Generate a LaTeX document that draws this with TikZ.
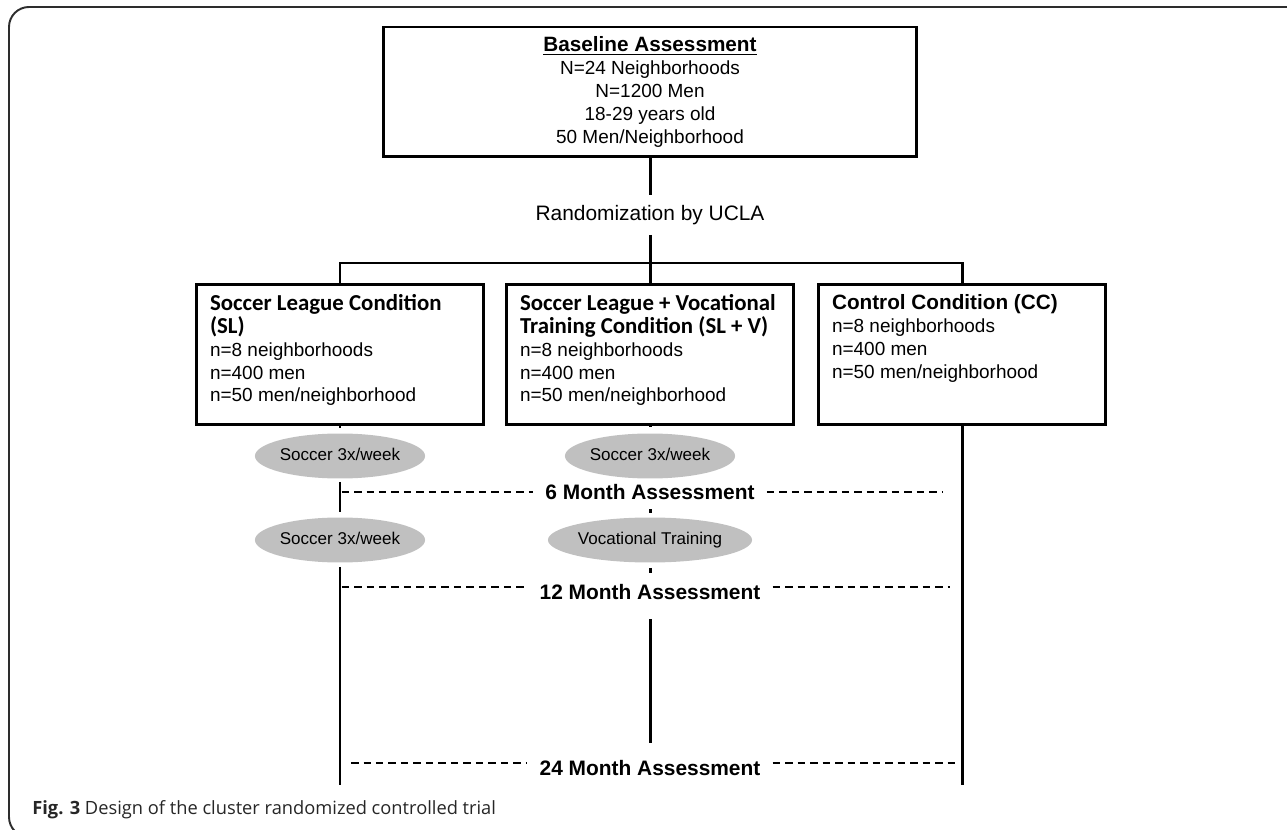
\documentclass[tikz,border=0pt]{standalone}
\usepackage{fontspec}
\setmainfont{Liberation Sans}
\newfontfamily\calfont{Carlito}
\newfontfamily\capfont{Open Sans}
\usepackage{tikz}
\usetikzlibrary{shapes.geometric,positioning}
\definecolor{ovalgray}{RGB}{192,192,192}
\definecolor{framegray}{RGB}{45,45,45}
\newcommand{\condtext}[2]{\parbox[t][2.4cm][t]{5.2cm}{\raggedright #1\fontsize{10.8}{13}\selectfont #2}}
\newcommand{\sltitle}[2]{{\calfont\bfseries\fontsize{#1}{#1}\selectfont #2\par}}

\begin{document}
\begin{tikzpicture}[x=0.02cm, y=-0.02cm,
  trunk/.style={line width=1.7pt},
  condbox/.style={draw, line width=1.7pt, inner xsep=0.28cm, inner ysep=0.2cm, anchor=north},
  oval/.style={ellipse, fill=ovalgray, minimum width=3.24cm, minimum height=0.9cm, inner sep=0pt, text height=0.72em, text depth=0.2em, font=\fontsize{9.7}{11}\selectfont},
  assess/.style={inner xsep=0.24cm, inner ysep=0pt, font=\bfseries\fontsize{11.9}{13}\selectfont},
  dashpat/.style={line width=0.7pt, dash pattern=on 0.15cm off 0.1cm}]
\clip (0,0) rectangle (1287,830);
\draw[framegray, line width=1.1pt, rounded corners=0.4cm] (1300,7) -- (9,7) -- (9,837) -- (1300,837);
\node[draw, line width=1.7pt, minimum width=10.66cm, minimum height=2.6cm, align=center, font=\fontsize{10.8}{13}\selectfont] (base) at (650,92)
  {{\bfseries\fontsize{11.8}{13}\selectfont\underline{Baseline Assessment}}\\N=24 Neighborhoods\\N=1200 Men\\18-29 years old\\50 Men/Neighborhood};
\node[font=\fontsize{11.9}{13}\selectfont, minimum height=0.78cm] (rand) at (650,215) {Randomization by UCLA};
\node[condbox] (sl) at (340,283) {\condtext{\sltitle{13}{Soccer League Condition\\(SL)}}{n=8 neighborhoods\\n=400 men\\n=50 men/neighborhood}};
\node[condbox] (sv) at (650,283) {\condtext{\sltitle{13}{Soccer League + Vocational\\Training Condition (SL + V)}}{n=8 neighborhoods\\n=400 men\\n=50 men/neighborhood}};
\node[condbox] (cc) at (962,283) {\condtext{{\bfseries\fontsize{11.8}{13}\selectfont Control Condition (CC)\par}}{n=8 neighborhoods\\n=400 men\\n=50 men/neighborhood}};
% activities
\node[oval] (sl1) at (340,456) {Soccer 3x/week};
\node[oval] (sl2) at (340,540) {Soccer 3x/week};
\node[oval] (sv1) at (650,456) {Soccer 3x/week};
\node[oval, minimum width=3.4cm] (sv2) at (650,540) {Vocational Training};
% follow-ups
\node[assess] (m6) at (650,492) {6 Month Assessment};
\node[assess] (m12) at (650,592) {12 Month Assessment};
\node[assess] (m24) at (650,768) {24 Month Assessment};
\coordinate (split) at (650,263);
\coordinate (slend) at (340,785);
\coordinate (ccend) at (962,785);
\node[anchor=west, inner sep=0pt, text=black!85, font=\capfont\fontsize{10.4}{12}\selectfont] (cap) at (32,810)
  {\textbf{Fig. 3} Design of the cluster randomized controlled trial};

\draw[trunk] (base) -- (rand);
\draw[trunk] (rand) -- (sv);
\draw[trunk] (sl.north) |- (split) -| (cc.north);
\draw[trunk, shorten >=0.1cm] (sl) -- (sl1);
\draw[trunk, shorten <=0.06cm, shorten >=0.1cm] (sl1) -- (sl2);
\draw[trunk, shorten <=0.08cm] (sl2) -- (slend);
\draw[trunk] (cc) -- (ccend);
\draw[trunk, shorten >=0.12cm] (sv) -- (sv1);
\draw[trunk, shorten <=0.18cm, shorten >=0.08cm] (m6) -- (sv2);
\draw[trunk, shorten <=0.1cm, shorten >=0.22cm] (sv2) -- (m12);
\draw[trunk, shorten <=0.38cm, shorten >=0.34cm] (m12) -- (m24);
\draw[dashpat, shorten <=0.03cm] (m6.west -| sl.south) -- (m6.west);
\draw[dashpat, shorten >=0.4cm] (m6.east) -- (m6.east -| cc.south);
\draw[dashpat, shorten <=0.03cm] ([yshift=0.1cm]m12.west -| sl.south) -- ([yshift=0.1cm]m12.west);
\draw[dashpat, shorten >=0.24cm] ([yshift=0.1cm]m12.east) -- ([yshift=0.1cm]m12.east -| cc.south);
\draw[dashpat, shorten <=0.22cm] ([yshift=0.1cm]m24.west -| sl.south) -- ([yshift=0.1cm]m24.west);
\draw[dashpat, shorten >=0.12cm] ([yshift=0.1cm]m24.east) -- ([yshift=0.1cm]m24.east -| cc.south);
\end{tikzpicture}
\end{document}
